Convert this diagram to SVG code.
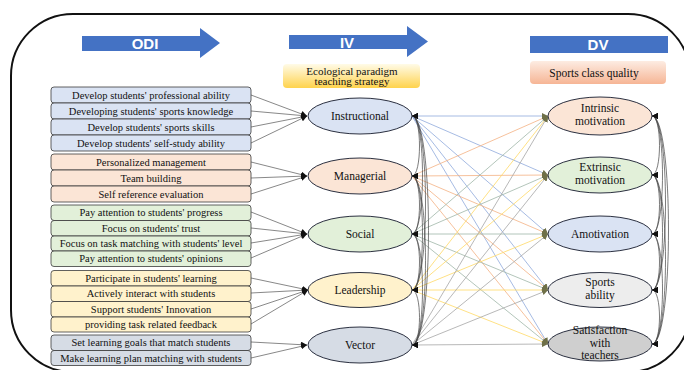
<svg xmlns="http://www.w3.org/2000/svg" width="684" height="370" viewBox="0 0 684 370">
<defs>
<linearGradient id="gY" x1="0" y1="0" x2="0" y2="1"><stop offset="0" stop-color="#fffbe8"/><stop offset="1" stop-color="#ffd34d"/></linearGradient>
<linearGradient id="gP" x1="0" y1="0" x2="0" y2="1"><stop offset="0" stop-color="#fdece2"/><stop offset="1" stop-color="#f6b595"/></linearGradient>
<marker id="ah" viewBox="0 0 10 10" refX="10" refY="5" markerWidth="6" markerHeight="6" markerUnits="userSpaceOnUse" orient="auto-start-reverse"><path d="M0,0 L10,5 L0,10 z" fill="#111"/></marker>
<marker id="ac" viewBox="0 0 10 10" refX="10" refY="5" markerWidth="6" markerHeight="6" markerUnits="userSpaceOnUse" orient="auto"><path d="M0,0 L10,5 L0,10 z" fill="#6f7048"/></marker>
<style>
.bx{stroke:#3a3a3a;stroke-width:0.8}
.b1{fill:#dae3f3}.b2{fill:#fbe5d6}.b3{fill:#e2f0d9}.b4{fill:#fff2cc}.b5{fill:#d6dce5}
.t{font-family:"Liberation Serif","Times New Roman",serif;font-size:10.5px;fill:#111;text-anchor:middle}
.te{font-family:"Liberation Serif","Times New Roman",serif;font-size:11.5px;fill:#111;text-anchor:middle}
.tl{font-family:"Liberation Serif","Times New Roman",serif;font-size:11px;fill:#111;text-anchor:middle}
.el{stroke:#2b3040;stroke-width:1}
.ar{fill:#4472c4}
.at{font-family:"Liberation Sans",Arial,sans-serif;font-size:15px;font-weight:bold;fill:#fff;text-anchor:middle}
.lc{stroke:#555;stroke-width:0.7;fill:none;marker-end:url(#ah)}
.cv{stroke:#444;stroke-width:0.7;fill:none;marker-start:url(#ah);marker-end:url(#ah)}
.x{stroke-width:0.8;fill:none;marker-end:url(#ac)}
.c1{stroke:#8faadc}.c2{stroke:#f4b183}.c3{stroke:#9fb6a8}.c4{stroke:#ffd966}.c5{stroke:#a6a6a6}
</style>
</defs>
<rect x="11" y="14" width="679" height="358" rx="62" ry="62" fill="#fff" stroke="#111" stroke-width="2"/>

<g id="arrow-odi"><polygon class="ar" points="82,36 200,36 200,28 220,43 200,58 200,51 82,51"/><text class="at" x="145" y="49">ODI</text></g>
<g id="arrow-iv"><polygon class="ar" points="289,35 407,35 407,26 428,41.5 407,57 407,49 289,49"/><text class="at" x="347" y="47.5">IV</text></g>
<g id="arrow-dv"><rect class="ar" x="530" y="36" width="138" height="17"/><text class="at" x="598" y="50">DV</text></g>
<g id="iv-label"><rect x="283" y="64" width="137" height="24" rx="4" fill="url(#gY)"/><text class="tl" x="352" y="74.5">Ecological paradigm</text><text class="tl" x="352" y="85">teaching strategy</text></g>
<g id="dv-label"><rect x="530" y="61" width="136" height="23" rx="4" fill="url(#gP)"/><text class="tl" x="594" y="76.5" style="font-size:11.5px">Sports class quality</text></g>

<g id="connectors">
<path class="lc" d="M251,95 L307,116"/><path class="lc" d="M251,111 L307,116"/><path class="lc" d="M251,127 L307,116"/><path class="lc" d="M251,143 L307,116"/>
<path class="lc" d="M251,162 L307,176"/><path class="lc" d="M251,178 L307,176"/><path class="lc" d="M251,194 L307,176"/>
<path class="lc" d="M251,212 L307,234"/><path class="lc" d="M251,228 L307,234"/><path class="lc" d="M251,243 L307,234"/><path class="lc" d="M251,258 L307,234"/>
<path class="lc" d="M251,278 L308,290"/><path class="lc" d="M251,293 L308,290"/><path class="lc" d="M251,309 L308,290"/><path class="lc" d="M251,324 L308,290"/>
<path class="lc" d="M251,342 L307,345"/><path class="lc" d="M251,358 L307,345"/>

<path class="x c1" d="M412,116 L548,116"/><path class="x c1" d="M412,116 L548,175"/><path class="x c1" d="M412,116 L548,234"/><path class="x c1" d="M412,116 L548,290"/><path class="x c1" d="M412,116 L548,344"/>
<path class="x c2" d="M412,176 L548,116"/><path class="x c2" d="M412,176 L548,175"/><path class="x c2" d="M412,176 L548,234"/><path class="x c2" d="M412,176 L548,290"/><path class="x c2" d="M412,176 L548,344"/>
<path class="x c3" d="M412,234 L548,116"/><path class="x c3" d="M412,234 L548,175"/><path class="x c3" d="M412,234 L548,234"/><path class="x c3" d="M412,234 L548,290"/><path class="x c3" d="M412,234 L548,344"/>
<path class="x c4" d="M412,290 L548,116"/><path class="x c4" d="M412,290 L548,175"/><path class="x c4" d="M412,290 L548,234"/><path class="x c4" d="M412,290 L548,290"/><path class="x c4" d="M412,290 L548,344"/>
<path class="x c5" d="M412,345 L548,116"/><path class="x c5" d="M412,345 L548,175"/><path class="x c5" d="M412,345 L548,234"/><path class="x c5" d="M412,345 L548,290"/><path class="x c5" d="M412,345 L548,344"/>

<path class="cv" d="M412,116 C422,116 422,176 412,176"/><path class="cv" d="M412,116 C426,116 426,234 412,234"/><path class="cv" d="M412,116 C430,116 430,290 412,290"/><path class="cv" d="M412,116 C434,116 434,345 412,345"/>
<path class="cv" d="M412,176 C422,176 422,234 412,234"/><path class="cv" d="M412,176 C426,176 426,290 412,290"/><path class="cv" d="M412,176 C430,176 430,345 412,345"/>
<path class="cv" d="M412,234 C422,234 422,290 412,290"/><path class="cv" d="M412,234 C426,234 426,345 412,345"/>
<path class="cv" d="M412,290 C422,290 422,345 412,345"/>

<path class="cv" d="M652,116 C662,116 662,175 652,175"/><path class="cv" d="M652,116 C666,116 666,234 652,234"/><path class="cv" d="M652,116 C670,116 670,290 652,290"/><path class="cv" d="M652,116 C674,116 674,344 652,344"/>
<path class="cv" d="M652,175 C662,175 662,234 652,234"/><path class="cv" d="M652,175 C666,175 666,290 652,290"/><path class="cv" d="M652,175 C670,175 670,344 652,344"/>
<path class="cv" d="M652,234 C662,234 662,290 652,290"/><path class="cv" d="M652,234 C666,234 666,344 652,344"/>
<path class="cv" d="M652,290 C662,290 662,344 652,344"/>
</g>

<g id="odi-instructional">
<rect class="bx b1" x="51" y="87" width="200" height="16" rx="3"/><text class="t" x="151" y="98.5">Develop students' professional ability</text>
<rect class="bx b1" x="51" y="103" width="200" height="16" rx="3"/><text class="t" x="151" y="114.5">Developing students' sports knowledge</text>
<rect class="bx b1" x="51" y="119" width="200" height="16" rx="3"/><text class="t" x="151" y="130.5">Develop students' sports skills</text>
<rect class="bx b1" x="51" y="135" width="200" height="16" rx="3"/><text class="t" x="151" y="146.5">Develop students' self-study ability</text>
</g>
<g id="odi-managerial">
<rect class="bx b2" x="51" y="154" width="200" height="16" rx="3"/><text class="t" x="151" y="165.5">Personalized management</text>
<rect class="bx b2" x="51" y="170" width="200" height="16" rx="3"/><text class="t" x="151" y="181.5">Team building</text>
<rect class="bx b2" x="51" y="186" width="200" height="16" rx="3"/><text class="t" x="151" y="197.5">Self reference evaluation</text>
</g>
<g id="odi-social">
<rect class="bx b3" x="51" y="205" width="200" height="15.5" rx="3"/><text class="t" x="151" y="216">Pay attention to students' progress</text>
<rect class="bx b3" x="51" y="220.5" width="200" height="15.5" rx="3"/><text class="t" x="151" y="231.5">Focus on students' trust</text>
<rect class="bx b3" x="51" y="236" width="200" height="15" rx="3"/><text class="t" x="151" y="247">Focus on task matching with students' level</text>
<rect class="bx b3" x="51" y="251" width="200" height="15.5" rx="3"/><text class="t" x="151" y="262">Pay attention to students' opinions</text>
</g>
<g id="odi-leadership">
<rect class="bx b4" x="51" y="270.5" width="200" height="15.5" rx="3"/><text class="t" x="151" y="281.5">Participate in students' learning</text>
<rect class="bx b4" x="51" y="286" width="200" height="15.5" rx="3"/><text class="t" x="151" y="297">Actively interact with students</text>
<rect class="bx b4" x="51" y="301.5" width="200" height="15.5" rx="3"/><text class="t" x="151" y="312.5">Support students' Innovation</text>
<rect class="bx b4" x="51" y="317" width="200" height="15" rx="3"/><text class="t" x="151" y="328">providing task related feedback</text>
</g>
<g id="odi-vector">
<rect class="bx b5" x="51" y="335" width="200" height="15.5" rx="3"/><text class="t" x="151" y="346">Set learning goals that match students</text>
<rect class="bx b5" x="51" y="350.5" width="200" height="15" rx="3"/><text class="t" x="151" y="361.5">Make learning plan matching with students</text>
</g>

<g id="iv-instructional"><ellipse class="el" cx="360" cy="116" rx="52" ry="18" fill="#dae3f3"/><text class="te" x="360" y="120">Instructional</text></g>
<g id="iv-managerial"><ellipse class="el" cx="360" cy="176" rx="52" ry="18" fill="#fbe5d6"/><text class="te" x="360" y="180">Managerial</text></g>
<g id="iv-social"><ellipse class="el" cx="360" cy="234" rx="52" ry="18" fill="#e2f0d9"/><text class="te" x="360" y="238">Social</text></g>
<g id="iv-leadership"><ellipse class="el" cx="360" cy="290" rx="52" ry="17.5" fill="#fff2cc"/><text class="te" x="360" y="294">Leadership</text></g>
<g id="iv-vector"><ellipse class="el" cx="360" cy="345" rx="52" ry="18" fill="#d6dce5"/><text class="te" x="360" y="349">Vector</text></g>

<g id="dv-intrinsic"><ellipse class="el" cx="600" cy="116" rx="52" ry="19" fill="#fbe5d6"/><text class="te" x="600" y="112">Intrinsic</text><text class="te" x="600" y="125">motivation</text></g>
<g id="dv-extrinsic"><ellipse class="el" cx="600" cy="175" rx="52" ry="18" fill="#e2f0d9"/><text class="te" x="600" y="171">Extrinsic</text><text class="te" x="600" y="184">motivation</text></g>
<g id="dv-amotivation"><ellipse class="el" cx="600" cy="234" rx="52" ry="18" fill="#dae3f3"/><text class="te" x="600" y="238">Amotivation</text></g>
<g id="dv-sports"><ellipse class="el" cx="600" cy="290" rx="52" ry="17.5" fill="#ededed"/><text class="te" x="600" y="286">Sports</text><text class="te" x="600" y="299">ability</text></g>
<g id="dv-satisfaction"><ellipse class="el" cx="600" cy="344" rx="52" ry="17" fill="#cfcfcf"/><text class="te" x="600" y="334">Satisfaction</text><text class="te" x="600" y="346.5">with</text><text class="te" x="600" y="359">teachers</text></g>
</svg>
